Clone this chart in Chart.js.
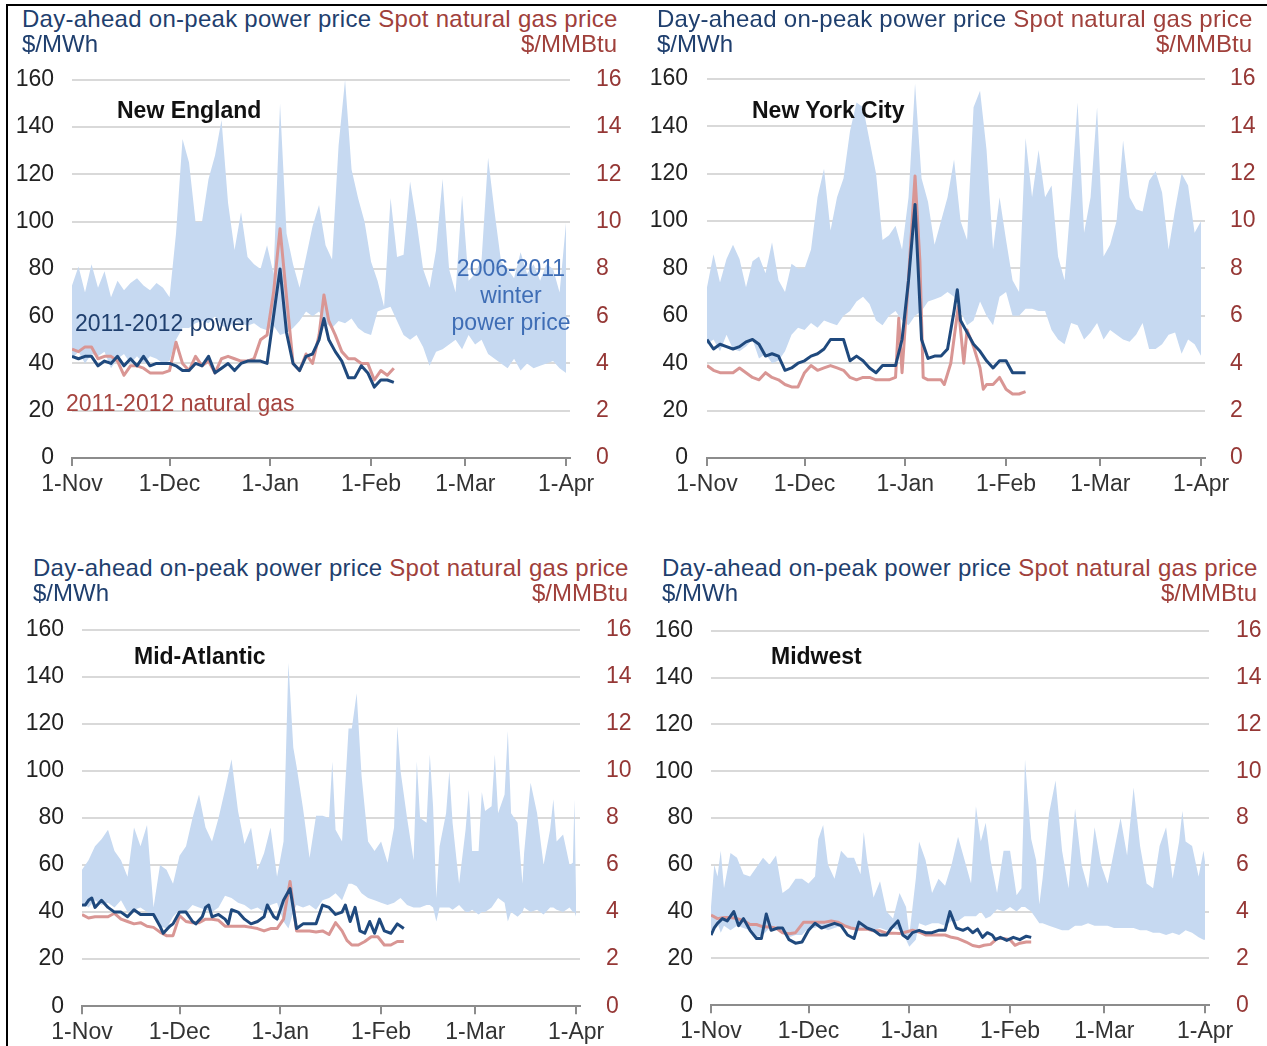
<!DOCTYPE html>
<html><head><meta charset="utf-8">
<script src="https://cdn.jsdelivr.net/npm/chart.js@4.4.1/dist/chart.umd.min.js"></script>
<style>
body{margin:0;width:1267px;height:1046px;position:relative;background:#fff;font-family:"Liberation Sans",Arial,sans-serif;overflow:hidden}
.frame{position:absolute;left:6px;top:4px;width:1400px;height:1100px;border-left:2px solid #000;border-top:2px solid #000}
canvas{position:absolute}
.t{position:absolute;white-space:nowrap;line-height:24px}
.h{font-size:24px}
.hh{letter-spacing:0.27px}
.blue{color:#1F3F6E}.red{color:#A0403B}
.lab{font-size:23px;font-weight:bold;color:#111}
</style></head><body>
<div class="frame"></div>
<script>
// ---------- shared axis data ----------
const monthDays = [0, 30, 61, 92, 121, 152];
const monthLabels = ['1-Nov', '1-Dec', '1-Jan', '1-Feb', '1-Mar', '1-Apr'];
const headerPower = 'Day-ahead on-peak power price';
const headerGas = 'Spot natural gas price';
const unitPower = '$/MWh';
const unitGas = '$/MMBtu';
const regionNames = ['New England', 'New York City', 'Mid-Atlantic', 'Midwest'];

// ---------- New England ----------
const neBandDays = [0,2,4,6,8,10,12,14,16,18,20,22,24,26,28,30,32,34,36,38,40,42,44,46,48,50,52,54,56,58,60,62,64,66,68,70,72,74,76,78,80,82,84,86,88,90,92,94,96,98,100,102,104,106,108,110,112,114,116,118,120,122,124,126,128,130,132,134,136,138,140,142,144,146,148,150,152];
const neHigh = [73,81,70,82,72,79,68,75,71,74, 76,73,71,74,72,68,95,135,125,100, 100,118,128,143,108,88,104,85,82,80, 90,78,150,95,82,72,85,98,107,90, 84,132,160,122,110,100,83,75,64,110, 85,86,117,100,80,72,88,118,80,70, 111,75,78,84,127,104,83,80,76,87, 78,82,75,82,80,70,100];
const neLow = [42,45,40,44,43,45,38,42,44,40, 43,40,43,42,40,41,50,55,55,57, 58,57,60,56,55,58,57,56,57,55, 54,56,52,53,55,58,62,60,62,57, 55,58,57,59,55,53,52,62,63,64, 58,52,50,52,47,39,45,46,48,50, 46,52,48,50,44,42,40,38,42,37, 40,38,39,40,41,38,36];
const neLineDays = [0,2,4,6,8,10,12,14,16,18,20,22,24,26,28,30,32,34,36,38,40,42,44,46,48,50,52,54,56,58,60,62,64,66,68,70,72,74,76,77.5,79,81,83,85,87,89,91,93,95,97,99];
const nePower = [43,42,43,43,39,41,40,43,39,42, 39,43,39,40,40,40,39,37,37,40, 39,43,36,38,40,37,40,41,41,41, 40,60,80,53,40,37,43,44,50, 59,50,45,41,34,34,39,36,30,33,33,32];
const neGas = [4.6,4.5,4.7,4.7,4.2,4.3,4.3,4.1,3.5,3.9, 3.9,3.8,3.6,3.6,3.6,3.7,4.9,4.0,3.7,4.3, 3.9,4.1,3.6,4.2,4.3,4.2,4.1,4.1,4.2,5.0, 5.2,7.0,9.7,6.8,4.0,3.7,4.4,4.0,5.2, 6.9,5.8,5.2,4.5,4.2,4.2,4.0,4.0,3.3,3.7,3.5,3.8];

// ---------- New York City ----------
const nyBandDays = neBandDays.slice();
const nyHigh = [72,86,74,84,90,84,72,83,85,78, 91,75,70,82,80,80,88,110,122,96, 110,118,138,150,148,134,120,92,94,98, 88,110,158,118,108,90,100,110,126,100, 92,148,155,130,88,110,92,75,70,135, 110,130,110,115,85,75,110,150,95,110, 148,85,90,100,134,110,105,104,117,121, 112,88,105,120,115,95,100];
const nyLow = [48,50,45,52,46,45,47,50,42,44, 40,41,45,52,55,54,57,55,58,57, 56,60,62,66,68,65,58,56,60,62, 58,56,60,62,66,67,68,70,68,62, 56,58,66,60,56,68,70,60,60,63, 63,62,62,54,50,48,57,56,50,53, 57,50,54,52,50,49,52,57,46,46, 48,52,53,44,50,48,43];
const nyPowerDays = [0,2,4,6,8,10,12,14,16,18,20,22,24,26,28,30,32,34,36,38,40,42,44,46,48,50,52,54,56,58,60,62,64,66,68,70,72,74,76,77,78,80,82,84,86,88,90,92,94,96,98];
const nyPower = [50,46,48,47,46,47,49,50,48,43, 44,43,37,38,40,41,43,44,46,50, 50,50,41,43,41,38,36,39,39,39, 50,75,107,50,42,43,43,46,62,71, 58,53,48,45,41,38,41,41,36,36,36];
const nyGasDays = [0,2,4,6,8,10,12,14,16,18,20,22,24,26,28,30,32,34,36,38,40,42,44,46,48,50,52,54,56,58,59,60,62,64,65.5,66.5,68,70,72,73,75,77.3,79,80,82,84,85,86,88,90,92,94,96,98];
const nyGas = [3.9,3.7,3.6,3.6,3.6,3.8,3.6,3.4,3.3,3.6, 3.4,3.3,3.1,3.0,3.0,3.6,3.9,3.7,3.8,3.9, 3.8,3.7,3.4,3.3,3.4,3.4,3.3,3.3,3.3,3.4, 5.9,3.6,7.6,11.9,8.3,3.4,3.3,3.3,3.3,3.1, 4.0,6.4,4.0,5.4,4.7,3.8,2.9,3.1,3.1,3.4, 2.9,2.7,2.7,2.8];

// ---------- Mid-Atlantic ----------
const maBandDays = [0,2,4,6,8,10,12,14,16,18,20,22,24,26,28,30,32,34,36,38,40,42,44,46,48,50,52,54,56,58,60,62,63.5,65,66,68,70,72,74,76,77,78,80,82,83,84.5,86,88,90,92,94,96,97,98,100,102,103,104,106,107,108,109,110,112,113,114,116,118,119,120,122,123,124,126,127,128,130,131,132,134,135.5,136,138,140,142,144,145,146,148,150,151,151.5,152];
const maHigh = [58,62,68,71,75,66,62,55,76,68, 77,42,60,58,52,64,68,80,90,76, 70,80,92,105,83,69,76,58,65,76, 55,70,146,110,102,84,63,81,81,80, 104,75,70,118,118,133,98,70,66,70, 61,76,119,100,80,62,104,80,78,107, 85,46,68,82,100,78,52,75,92,66, 66,91,83,85,107,82,90,117,82,78, 52,65,95,82,60,75,88,70,73,60, 61,88,45];
const maLow = [44,42,45,43,44,42,45,40,41,42, 40,38,34,33,38,41,40,43,42,41, 40,42,47,46,44,43,41,42,40,43, 44,36,33,40,43,42,43,41,45,46, 47,48,45,52,52,51,48,46,45,44, 43,44,45,46,43,42,42,42,43,43, 42,36,42,42,42,41,43,40,40,41, 39,40,40,42,44,46,44,36,40,38, 40,42,40,41,39,42,42,41,40,42, 40,40,38];
const maPowerDays = [0,1,2,3,4,6,8,10,12,14,16,18,20,22,24,25,27,28,30,32,34,35,37,38,39,40,42,44,45,46,48,50,52,54,56,57,59,60,62,64,66,68,70,72,74,76,78,80,81,82.5,84,85.5,87,88.5,90,91.5,93,95,97,99];
const maPower = [43,43,45,46,42,45,42,40,40,38, 41,39,39,39,34,31,34,35,40,40, 36,35,38,42,43,38,39,37,35,41, 40,37,35,36,38,43,38,37,45,50, 33,35,35,35,43,42,39,40,43,36, 42,32,31,36,31,37,32,31,35,33];
const maGasDays = [0,2,4,6,8,10,12,14,16,18,20,22,24,26,28,30,32,34,36,38,40,42,44,46,48,50,52,54,56,58,60,62,64,66,68,70,72,74,76,78,80,81.5,83,85,87,89,91,93,95,97,99];
const maGas = [3.9,3.75,3.8,3.8,3.8,3.95,3.7,3.6,3.5,3.55, 3.4,3.35,3.15,3.0,3.0,3.85,3.6,3.55,3.55,3.7, 3.7,3.65,3.4,3.4,3.4,3.4,3.35,3.3,3.2,3.3, 3.3,3.7,5.3,3.2,3.2,3.2,3.15,3.2,3.05,3.55,3.2, 2.8,2.6,2.6,2.75,2.95,2.95,2.6,2.6,2.75,2.75];

// ---------- Midwest ----------
const mwBandDays = [0,1,2,3,4,6,8,10,12,14,16,18,20,22,24,26,28,30,32,33,34.5,36,38,40,42,44,46,47,48,50,52,54,56,58,60,61,63,64,66,68,70,72,74,76,78,80,81.5,83,84.5,86,88,90,92,94,95.5,96.6,97.5,98.5,100,101,102,104,106,108,110,112,114,116,118,120,122,124,126,128,130,132,134,136,138,140,142,144,145,146,148,150,151.5,152];
const mwHigh = [42,60,55,66,50,65,63,56,55,59, 63,60,64,48,50,54,54,52,55,71, 77,60,54,66,63,63,56,74,62,46, 53,40,37,48,42,30,54,70,62,48, 54,51,60,72,62,52,85,70,78,62, 48,66,66,47,50,105,88,71,62,43, 54,82,96,66,50,84,60,50,76,60, 52,66,80,64,93,68,52,50,68,76, 54,70,83,70,68,55,66,61];
const mwLow = [32,33,35,31,34,32,34,33,32,29, 30,33,34,32,29,30,30,33,33,34, 33,32,33,34,33,32,33,32,33,32, 33,32,33,32,28,25,28,35,34,35, 35,34,36,36,38,38,38,40,37,38, 41,40,42,40,42,42,41,40,37,35, 35,34,33,32,32,34,34,35,34,34, 34,33,33,33,33,32,32,31,31,30, 31,30,31,32,31,29,28,28];
const mwPowerDays = [0,1,2,3.5,5,7,8.5,10,12,14,15.5,17,18.5,20.5,22,24,26,28,30,32,34,36,38,40,42,44,45.5,48,50,52,54,55.5,57.5,59,60.5,62,64,66,68,70,72,73.5,75.5,77.5,79,80.5,82,83.5,85,86.5,87.5,89,91,93,95,97,98.5];
const mwPower = [30,33,35,37,36,40,34,37,32,28.5, 28.5,39,32,33,33,28,26.5,27,32,35, 33,34,35,34,30,28.5,35.5,33,32,30, 30,33,36,30,28.5,31,32,31,31,32, 32,40,33,32,33,31,32.5,29,31,30, 28,29,27.7,29,28,29.5,29];
const mwGasDays = [0,2,4,6,8,10,12,14,16,18,20,22,24,26,28.5,31,33,35,37,39,41,43,45,48,50,52,54,56,58,60,62,64,66,68,70,72,74,76,78.5,80.5,82.5,84,86,88,90,92,93.5,95,97,98.5];
const mwGas = [3.85,3.7,3.75,3.75,3.7,3.62,3.45,3.45,3.35,3.34, 3.3,3.1,3.05,3.1,3.55,3.55,3.55,3.55,3.6,3.55, 3.4,3.3,3.25,3.25,3.18,3.18,3.08,3.08,3.06,3.13, 3.2,3.13,3.0,3.0,3.0,3.0,2.9,2.85,2.7,2.55, 2.5,2.56,2.6,2.85,2.85,2.8,2.56,2.65,2.7,2.7];

// ---------- styles ----------
const BAND = '#C6D9F1', POWER = '#1F497D', GAS = '#D99694';
const FONT = {family: '"Liberation Sans", Arial, sans-serif', size: 23};
const LABEL_TOP_EXTRA = 21; // space Chart.js reserves above the top y tick label
const AXIS_BOTTOM_FIX = 2;

function check(name, a, b) { if (a.length !== b.length) throw new Error(name + ' length mismatch ' + a.length + ' vs ' + b.length); }

function pts(xs, ys) { return xs.map((x, i) => ({x: x, y: ys[i]})); }

function addText(txt, x, y, cls, style) {
  const d = document.createElement('div');
  d.className = 't ' + cls;
  d.textContent = txt;
  d.style.left = x + 'px'; d.style.top = y + 'px';
  if (style) Object.assign(d.style, style);
  document.body.appendChild(d);
  return d;
}

function header(x, y, rightEdge) {
  const d = document.createElement('div');
  d.className = 't h hh';
  d.style.left = x + 'px'; d.style.top = y + 'px';
  const a = document.createElement('span'); a.className = 'blue'; a.textContent = headerPower + ' ';
  const b = document.createElement('span'); b.className = 'red'; b.textContent = headerGas;
  d.appendChild(a); d.appendChild(b);
  document.body.appendChild(d);
  addText(unitPower, x, y + 25, 'h blue');
  const u = addText(unitGas, 0, y + 25, 'h red');
  u.style.left = ''; u.style.right = (1267 - rightEdge) + 'px';
}

function panel(box, area, d) {
  check('band', d.bandDays, d.high); check('band', d.bandDays, d.low);
  check('power', d.powerDays, d.power); check('gas', d.gasDays, d.gas);
  const cv = document.createElement('canvas');
  cv.width = box.w; cv.height = box.h;
  cv.style.left = box.x + 'px'; cv.style.top = box.y + 'px';
  cv.style.width = box.w + 'px'; cv.style.height = box.h + 'px';
  document.body.appendChild(cv);
  new Chart(cv, {
    type: 'line',
    data: {datasets: [
      {label: '2011-2012 power', data: pts(d.powerDays, d.power), yAxisID: 'y', borderColor: POWER, borderWidth: 3, pointRadius: 0, fill: false, tension: 0, order: 0, borderJoinStyle: 'round'},
      {label: '2011-2012 natural gas', data: pts(d.gasDays, d.gas), yAxisID: 'y2', borderColor: GAS, borderWidth: 3, pointRadius: 0, fill: false, tension: 0, order: 1, borderJoinStyle: 'round'},
      {label: 'high', data: pts(d.bandDays, d.high), yAxisID: 'y', borderWidth: 0, borderColor: 'rgba(0,0,0,0)', backgroundColor: BAND, pointRadius: 0, fill: '+1', tension: 0, order: 2},
      {label: 'low', data: pts(d.bandDays, d.low), yAxisID: 'y', borderWidth: 0, borderColor: 'rgba(0,0,0,0)', pointRadius: 0, fill: false, tension: 0, order: 3}
    ]},
    options: {
      responsive: false, animation: false, devicePixelRatio: 1,
      layout: {padding: {top: area.top - box.y - LABEL_TOP_EXTRA, left: 0, right: 0, bottom: 0}},
      plugins: {legend: {display: false}, tooltip: {enabled: false}, title: {display: false}},
      scales: {
        x: {type: 'linear', min: 0, max: 153.2, z: 1,
            afterBuildTicks: s => { s.ticks = monthDays.map(v => ({value: v})); },
            ticks: {callback: v => monthLabels[monthDays.indexOf(v)], font: FONT, color: '#333', padding: 5, maxRotation: 0, autoSkip: false},
            grid: {drawOnChartArea: false, drawTicks: true, tickLength: 8, color: '#8c8c8c', lineWidth: 2},
            border: {display: true, color: '#8c8c8c', width: 2},
            afterFit: s => { s.height = box.y + box.h - area.bottom - AXIS_BOTTOM_FIX; }},
        y: {position: 'left', min: 0, max: 160,
            ticks: {stepSize: 20, font: FONT, color: '#222', padding: area.lp},
            grid: {color: '#D9D9D9', lineWidth: 2, drawTicks: false},
            border: {display: false},
            afterFit: s => { s.width = area.left - box.x; }},
        y2: {position: 'right', min: 0, max: 16,
            ticks: {stepSize: 2, font: FONT, color: '#953735', padding: area.rp},
            grid: {display: false, drawTicks: false},
            border: {display: false},
            afterFit: s => { s.width = box.x + box.w - area.right; }}
      }
    }
  });
}

// Panels
panel({x: 0, y: 40, w: 640, h: 470}, {left: 72, right: 570, top: 77, bottom: 456, lp: 18, rp: 26},
  {bandDays: neBandDays, high: neHigh, low: neLow, powerDays: neLineDays, power: nePower, gasDays: neLineDays, gas: neGas});
panel({x: 635, y: 40, w: 632, h: 470}, {left: 707, right: 1205, top: 77, bottom: 456, lp: 19, rp: 25},
  {bandDays: nyBandDays, high: nyHigh, low: nyLow, powerDays: nyPowerDays, power: nyPower, gasDays: nyGasDays, gas: nyGas});
panel({x: 0, y: 590, w: 640, h: 456}, {left: 82, right: 580, top: 627, bottom: 1006, lp: 18, rp: 26},
  {bandDays: maBandDays, high: maHigh, low: maLow, powerDays: maPowerDays, power: maPower, gasDays: maGasDays, gas: maGas});
panel({x: 640, y: 590, w: 627, h: 456}, {left: 711, right: 1209, top: 627, bottom: 1006, lp: 18, rp: 27},
  {bandDays: mwBandDays, high: mwHigh, low: mwLow, powerDays: mwPowerDays, power: mwPower, gasDays: mwGasDays, gas: mwGas});

// Headers
header(22, 7, 617);
header(657, 7, 1252);
header(33, 556, 628);
header(662, 556, 1257);

// Region labels
addText(regionNames[0], 117, 98, 'lab');
addText(regionNames[1], 752, 98, 'lab');
addText(regionNames[2], 134, 644, 'lab');
addText(regionNames[3], 771, 644, 'lab');

// Series annotations (New England panel)
addText('2011-2012 power', 75, 311, 'blue', {fontSize: '23px', color: '#1F3F6E'});
addText('2011-2012 natural gas', 66, 391, 'red', {fontSize: '23px', color: '#A5443F'});
addText('2006-2011\nwinter\npower price', 450, 255, '', {fontSize: '23px', color: '#3E6DB5', whiteSpace: 'pre', textAlign: 'center', lineHeight: '27px', width: '122px'});
</script>
</body></html>
